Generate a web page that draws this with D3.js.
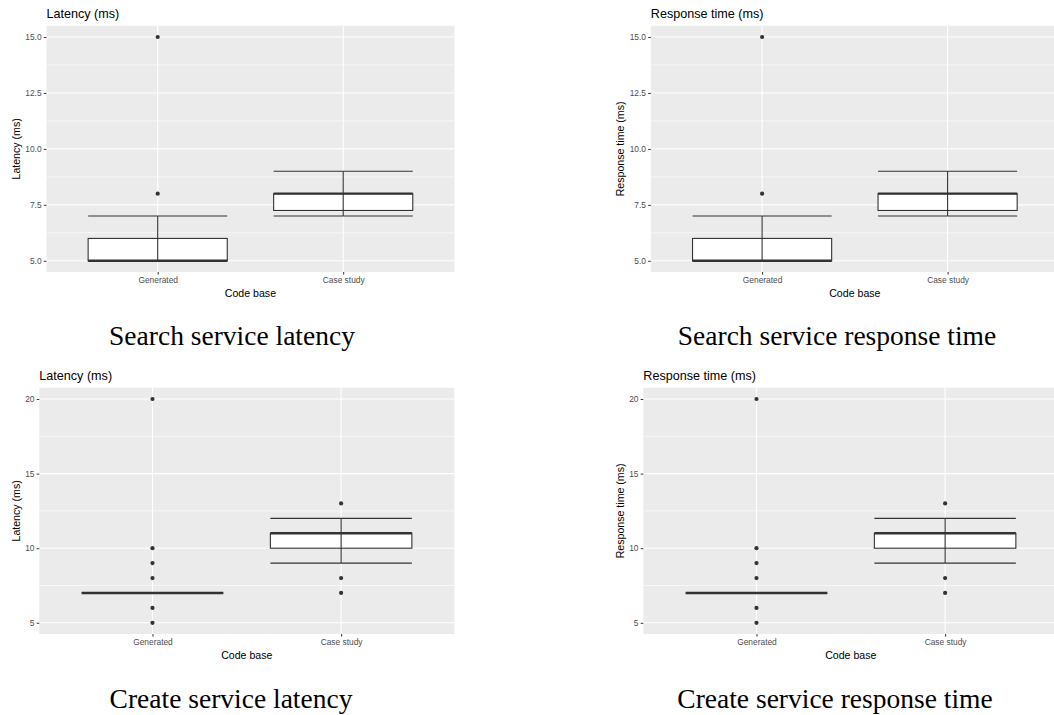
<!DOCTYPE html>
<html>
<head>
<meta charset="utf-8">
<script src="https://cdn.jsdelivr.net/npm/d3@7"></script>
<style>
  body { margin: 0; background: #fff; }
  svg { display: block; }
</style>
</head>
<body>
<svg id="chart" width="1054" height="715"></svg>
<script>
// Code bases on the x axis
const categories = ["Generated", "Case study"];

// Search service: box summaries per code base (ms)
const searchLowerWhisker = [5, 7];
const searchQ1 = [5, 7.25];
const searchMedian = [5, 8];
const searchQ3 = [6, 8];
const searchUpperWhisker = [7, 9];
const searchOutliers = [[8, 15], []];
const searchTicks = [5, 7.5, 10, 12.5, 15];

// Create service: box summaries per code base (ms)
const createLowerWhisker = [7, 9];
const createQ1 = [7, 10];
const createMedian = [7, 11];
const createQ3 = [7, 11];
const createUpperWhisker = [7, 12];
const createOutliers = [[5, 6, 8, 9, 10, 20], [7, 8, 13]];
const createTicks = [5, 10, 15, 20];

const metricTitles = ["Latency (ms)", "Response time (ms)"];
const captions = [
  "Search service latency", "Search service response time",
  "Create service latency", "Create service response time"
];

const svg = d3.select("#chart");

function buildStats(lo, q1, med, q3, hi, out) {
  return categories.map((c, i) => ({
    cat: c, lo: lo[i], q1: q1[i], med: med[i], q3: q3[i], hi: hi[i], out: out[i]
  }));
}

const searchStats = buildStats(searchLowerWhisker, searchQ1, searchMedian, searchQ3, searchUpperWhisker, searchOutliers);
const createStats = buildStats(createLowerWhisker, createQ1, createMedian, createQ3, createUpperWhisker, createOutliers);

function drawPanel(opt) {
  const { originX, left, top, right, bottom, title, stats, ticks, fmt, caption, captionX, captionY } = opt;
  const g = svg.append("g");

  // y domain: data range expanded by 5% on each side
  const all = stats.flatMap(d => [d.lo, d.hi, ...d.out]);
  const [mn, mx] = d3.extent(all);
  const pad = (mx - mn) * 0.05;
  const y = d3.scaleLinear().domain([mn - pad, mx + pad]).range([bottom, top]);
  const x = d3.scalePoint().domain(categories).range([left, right]).padding(0.6);
  const boxW = x.step() * 0.75;

  // panel background
  g.append("rect").attr("x", left).attr("y", top)
    .attr("width", right - left).attr("height", bottom - top).attr("fill", "#EBEBEB");

  // minor grid halfway between major ticks
  const step = ticks[1] - ticks[0];
  const minor = [ticks[0] - step / 2, ...ticks.map(t => t + step / 2)]
    .filter(v => v > y.domain()[0] && v < y.domain()[1]);
  g.selectAll(".minor").data(minor).join("line")
    .attr("x1", left).attr("x2", right)
    .attr("y1", d => y(d)).attr("y2", d => y(d))
    .attr("stroke", "#fff").attr("stroke-width", 0.6);
  g.selectAll(".major").data(ticks).join("line")
    .attr("x1", left).attr("x2", right)
    .attr("y1", d => y(d)).attr("y2", d => y(d))
    .attr("stroke", "#fff").attr("stroke-width", 1.1);
  g.selectAll(".vmajor").data(categories).join("line")
    .attr("x1", d => x(d)).attr("x2", d => x(d))
    .attr("y1", top).attr("y2", bottom)
    .attr("stroke", "#fff").attr("stroke-width", 1.1);

  // y axis
  const yAxis = g.append("g").attr("transform", `translate(${left},0)`)
    .call(d3.axisLeft(y).tickValues(ticks).tickFormat(fmt).tickSize(2.6).tickPadding(2.2));
  yAxis.select(".domain").remove();
  yAxis.selectAll(".tick line").attr("stroke", "#333").attr("stroke-width", 1);
  yAxis.selectAll(".tick text").attr("fill", "#4D4D4D")
    .style("font-family", "'Liberation Sans', Arial, sans-serif").style("font-size", "8.4px");

  // x axis
  const xAxis = g.append("g").attr("transform", `translate(0,${bottom})`)
    .call(d3.axisBottom(x).tickSize(2.6).tickPadding(2.6));
  xAxis.select(".domain").remove();
  xAxis.selectAll(".tick line").attr("stroke", "#333").attr("stroke-width", 1);
  xAxis.selectAll(".tick text").attr("fill", "#4D4D4D")
    .style("font-family", "'Liberation Sans', Arial, sans-serif").style("font-size", "8.4px");

  // boxes
  const box = g.selectAll(".box").data(stats).join("g");
  box.append("rect")
    .attr("x", d => x(d.cat) - boxW / 2).attr("width", boxW)
    .attr("y", d => y(d.q3)).attr("height", d => y(d.q1) - y(d.q3))
    .attr("fill", "#fff").attr("stroke", "#333").attr("stroke-width", 1.1);
  box.append("line")
    .attr("x1", d => x(d.cat) - boxW / 2).attr("x2", d => x(d.cat) + boxW / 2)
    .attr("y1", d => y(d.med)).attr("y2", d => y(d.med))
    .attr("stroke", "#333").attr("stroke-width", 2.4);
  box.selectAll("circle").data(d => d.out.map(v => ({ cat: d.cat, v }))).join("circle")
    .attr("cx", d => x(d.cat)).attr("cy", d => y(d.v)).attr("r", 2.1).attr("fill", "#333");

  // error bars spanning the whisker range
  const eb = g.selectAll(".eb").data(stats).join("g");
  eb.append("line")
    .attr("x1", d => x(d.cat)).attr("x2", d => x(d.cat))
    .attr("y1", d => y(d.lo)).attr("y2", d => y(d.hi))
    .attr("stroke", "#333").attr("stroke-width", 1.1);
  ["lo", "hi"].forEach(k => {
    eb.append("line")
      .attr("x1", d => x(d.cat) - boxW / 2).attr("x2", d => x(d.cat) + boxW / 2)
      .attr("y1", d => y(d[k])).attr("y2", d => y(d[k]))
      .attr("stroke", "#333").attr("stroke-width", 1.1);
  });

  // titles
  g.append("text").attr("x", left).attr("y", top - 7.5).text(title)
    .attr("fill", "#000").style("font-family", "'Liberation Sans', Arial, sans-serif").style("font-size", "12.6px");
  g.append("text").attr("transform", `translate(${originX + 20.3},${(top + bottom) / 2}) rotate(-90)`)
    .attr("text-anchor", "middle").text(title)
    .attr("fill", "#000").style("font-family", "'Liberation Sans', Arial, sans-serif").style("font-size", "10.6px");
  g.append("text").attr("x", (left + right) / 2).attr("y", bottom + 25.3)
    .attr("text-anchor", "middle").text("Code base")
    .attr("fill", "#000").style("font-family", "'Liberation Sans', Arial, sans-serif").style("font-size", "10.6px");

  // caption below the chart
  svg.append("text").attr("x", captionX).attr("y", captionY)
    .attr("text-anchor", "middle").text(caption)
    .attr("fill", "#000").style("font-family", "'Liberation Serif', 'Times New Roman', serif").style("font-size", "27.5px");
}

const fmt1 = d3.format(".1f");
const fmt0 = d3.format("d");

drawPanel({ originX: 0, left: 46.4, right: 454.5, top: 25.8, bottom: 272, title: metricTitles[0],
  stats: searchStats, ticks: searchTicks, fmt: fmt1, caption: captions[0], captionX: 232, captionY: 345 });
drawPanel({ originX: 604, left: 650.8, right: 1058.9, top: 25.8, bottom: 272, title: metricTitles[1],
  stats: searchStats, ticks: searchTicks, fmt: fmt1, caption: captions[1], captionX: 837, captionY: 345 });
drawPanel({ originX: 0, left: 39.3, right: 454.3, top: 387.8, bottom: 634, title: metricTitles[0],
  stats: createStats, ticks: createTicks, fmt: fmt0, caption: captions[2], captionX: 231, captionY: 708 });
drawPanel({ originX: 604, left: 643.3, right: 1058.3, top: 387.8, bottom: 634, title: metricTitles[1],
  stats: createStats, ticks: createTicks, fmt: fmt0, caption: captions[3], captionX: 835, captionY: 708 });
</script>
</body>
</html>
